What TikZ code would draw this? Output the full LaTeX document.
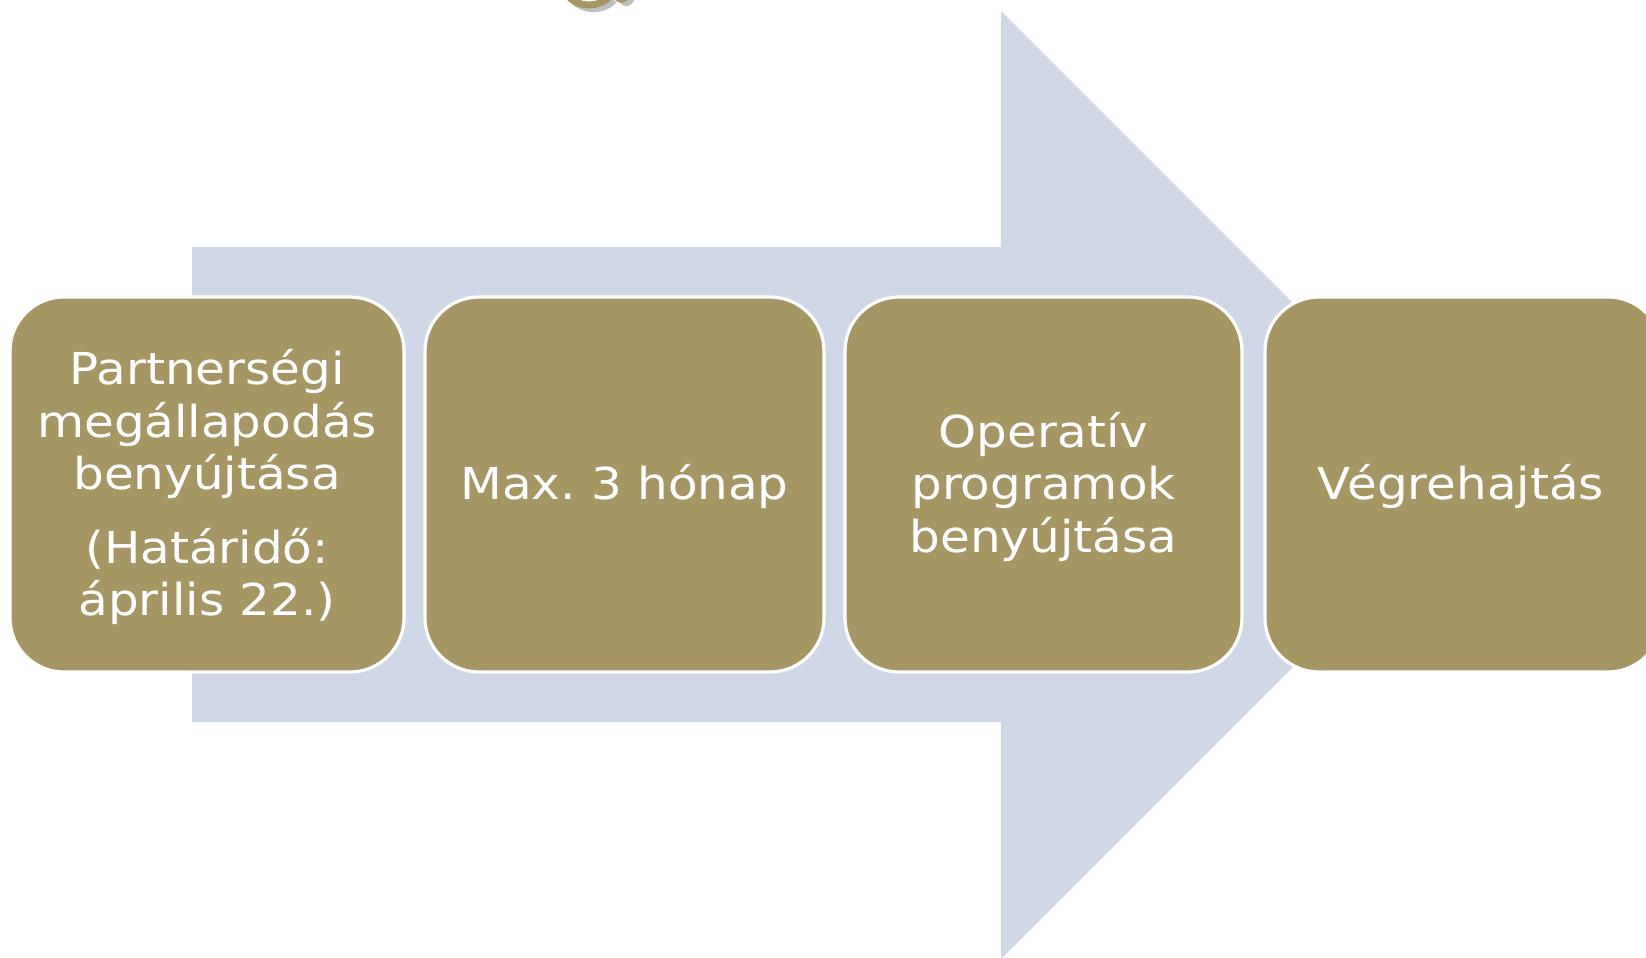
\documentclass[tikz,border=0pt]{standalone}
\usepackage{fontspec}
\newfontfamily\boxfont[FakeStretch=1.1]{DejaVu Sans}
\definecolor{tan}{RGB}{166,150,100}
\definecolor{arrowblue}{RGB}{208,216,232}
\definecolor{logoshadow}{RGB}{190,190,190}
\frenchspacing
\begin{document}
\begin{tikzpicture}[x=0.5pt,y=-0.5pt,
  stepbox/.style={fill=tan,draw=white,line width=1.6pt,rounded corners=27pt},
  steptext/.style={text=white,align=center,font=\boxfont\fontsize{22}{26.25}\selectfont,inner sep=0pt}]
\useasboundingbox (0,0) rectangle (1646,958);
\clip (0,0) rectangle (1646,958);
% logo fragment at top
\draw[logoshadow,line width=3.5pt] (568,-14) .. controls (570,12) and (602,14) .. (614,0);
\fill[logoshadow] (617,-6) .. controls (619,10) and (632,10) .. (636,-4) -- cycle;
\draw[tan,line width=3.5pt] (564,-16) .. controls (566,8) and (597,10) .. (609,-3);
\fill[tan] (612,-8) .. controls (614,6) and (627,6) .. (631,-6) -- cycle;
% big arrow
\fill[arrowblue] (192,247) -- (1001,247) -- (1001,11) -- (1475,485) -- (1001,959) -- (1001,722) -- (192,722) -- cycle;
% boxes
\draw[stepbox] (10,297) rectangle (404,672);
\draw[stepbox] (425,297) rectangle (824,672);
\draw[stepbox] (845,297) rectangle (1242,672);
\draw[stepbox] (1265,297) rectangle (1662,672);
\node[steptext] (b1) at (207,487) {Partnerségi\\megállapodás\\benyújtása\\[10.5pt](Határidő:\\április 22.)};
\node[steptext] (b2) at (624.5,486.5) {Max. 3 hónap};
\node[steptext] (b3) at (1043.5,486.5) {Operatív\\programok\\benyújtása};
\node[steptext] (b4) at (1461,486.5) {Végrehajtás};
\end{tikzpicture}
\end{document}
